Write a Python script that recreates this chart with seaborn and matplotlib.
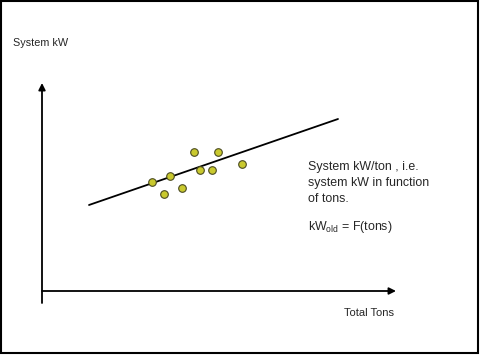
import numpy as np
import matplotlib
matplotlib.use("Agg")
import matplotlib.pyplot as plt
from matplotlib.patches import Rectangle
import seaborn as sns
import pandas as pd

# data (arbitrary units)
tons = [110, 122, 128, 140, 152, 158, 170, 176, 200]
system_kw = [109, 97, 115, 103, 139, 121, 121, 139, 127]
fit_tons = [47, 296]
fit_kw = [86, 172]

sns.set_style("white")
plt.rcParams['font.family'] = ['Liberation Sans', 'DejaVu Sans']
plt.rcParams['mathtext.fontset'] = 'custom'
plt.rcParams['mathtext.rm'] = 'Liberation Sans'
plt.rcParams['mathtext.it'] = 'Liberation Sans'

df = pd.DataFrame({'tons': tons, 'kw': system_kw})

fig = plt.figure(figsize=(4.8, 3.56), dpi=100)
ax = fig.add_axes([0, 0, 1, 1])
ax.set_xlim(-42, 438)
ax.set_ylim(-65, 291)
ax.axis('off')

# axes arrows
arrow = dict(arrowstyle='-|>', color='black', lw=1.3, mutation_scale=10,
             shrinkA=0, shrinkB=0)
ax.annotate('', xy=(354, 0), xytext=(0, 0), arrowprops=arrow)
ax.annotate('', xy=(0, 208), xytext=(0, -12), arrowprops=arrow)

# fitted line + points
sns.lineplot(x=fit_tons, y=fit_kw, ax=ax, color='black', lw=1.3)
sns.scatterplot(data=df, x='tons', y='kw', ax=ax, s=30, color='#c9c92e',
                edgecolor='#4a4a20', linewidth=0.8, zorder=3)

ax.text(-29, 248, 'System kW', fontsize=7.8, va='center', ha='left')
ax.text(352, -22, 'Total Tons', fontsize=8, va='center', ha='right')
ax.text(266, 130, 'System kW/ton , i.e.\nsystem kW in function\nof tons.',
        fontsize=8.9, va='top', ha='left', linespacing=1.42)
ax.text(266, 64, r'kW$_{\mathrm{old}}$ = F(tons)', fontsize=8.9,
        va='center', ha='left')

fig.add_artist(Rectangle((1 / 480, 3 / 356), 477 / 480, 352 / 356,
                         transform=fig.transFigure, fill=False,
                         edgecolor='black', lw=1.5))

fig.savefig('out.png', dpi=100)
